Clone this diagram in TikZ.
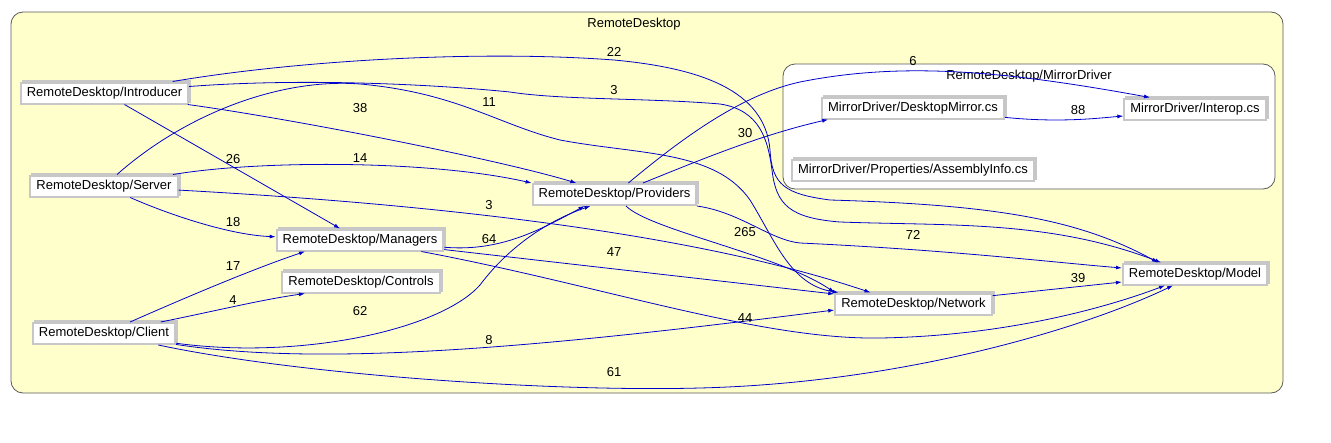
\documentclass[tikz,border=0pt]{standalone}
\usepackage{fontspec}
\setmainfont{Liberation Sans}
\usetikzlibrary{arrows.meta,shadows}
\definecolor{depblue}{RGB}{0,0,204}
\definecolor{areayellow}{RGB}{255,255,204}
\definecolor{areaedge}{RGB}{90,90,90}

\begin{document}
\begin{tikzpicture}[
x=1pt,y=-1pt,
module/.style={
draw=black!22,
line width=2pt,
fill=white,
inner xsep=6pt,
minimum height=21pt,
font=\fontsize{13}{15}\selectfont,
copy shadow={shadow xshift=2pt,shadow yshift=2pt}
},
area/.style={draw=areaedge,line width=0.8pt,rounded corners=12pt},
areatitle/.style={font=\fontsize{13}{15}\selectfont,inner sep=1pt},
deplabel/.style={font=\fontsize{13}{15}\selectfont,inner sep=1pt},
dep/.style={->,draw=depblue,line width=0.8pt},
>={Latex[length=6pt,width=4pt]}
]
\useasboundingbox (0,0) rectangle (1331,442);

% clusters
\draw[area,fill=areayellow] (11,12) rectangle (1283,393);
\node[areatitle] (rdtitle) at (634,24) {RemoteDesktop};
\draw[area,fill=white] (783,64) rectangle (1275,189);
\node[areatitle] (mdtitle) at (1029,76) {RemoteDesktop/MirrorDriver};

% modules
\node[module] (intro) at (104.5,93) {RemoteDesktop/Introducer};
\node[module] (server) at (104,186) {RemoteDesktop/Server};
\node[module] (client) at (104,333.5) {RemoteDesktop/Client};
\node[module] (managers) at (360,240) {RemoteDesktop/Managers};
\node[module] (controls) at (361,282) {RemoteDesktop/Controls};
\node[module] (providers) at (614.5,194.5) {RemoteDesktop/Providers};
\node[module] (network) at (913.5,304) {RemoteDesktop/Network};
\node[module] (model) at (1195,274) {RemoteDesktop/Model};
\node[module] (dmirror) at (913,108) {MirrorDriver/DesktopMirror.cs};
\node[module] (interop) at (1195,109) {MirrorDriver/Interop.cs};
\node[module] (asminfo) at (913,170) {MirrorDriver/Properties/AssemblyInfo.cs};

% dependencies
\draw[dep] (intro) -- (managers);
\draw[dep] (intro) .. controls (300,120) and (500,160) .. (providers);
\draw[dep] (intro) .. controls (300,60) and (480,50) .. (614,60)
  .. controls (700,68) and (765,90) .. (770,150)
  .. controls (772,185) and (785,194) .. (830,200)
  .. controls (1000,205) and (1080,220) .. ([xshift=-37pt]model.north);
\draw[dep] (intro) .. controls (300,78) and (430,84) .. (510,92)
  .. controls (560,100) and (650,98) .. (720,104)
  .. controls (760,110) and (768,140) .. (772,170)
  .. controls (776,205) and (790,218) .. (840,222)
  .. controls (950,226) and (1050,220) .. ([xshift=-34pt]model.north);
\draw[dep] (server) .. controls (190,110) and (290,75) .. (370,85)
  .. controls (460,95) and (500,125) .. (560,140)
  .. controls (640,155) and (715,150) .. (750,200)
  .. controls (775,240) and (790,285) .. ([xshift=-75pt]network.north);
\draw[dep] (server) .. controls (260,160) and (430,160) .. (providers.north west);
\draw[dep] (server) .. controls (170,215) and (230,235) .. (managers);
\draw[dep] (server) .. controls (450,205) and (700,235) .. ([xshift=-43pt]network.north);
\draw[dep] (client) .. controls (180,300) and (250,270) .. ([xshift=-55pt]managers.south);
\draw[dep] (client) .. controls (220,310) and (260,300) .. ([xshift=-56pt]controls.south);
\draw[dep] (client) .. controls (300,360) and (440,330) .. (480,285)
  .. controls (510,245) and (550,220) .. ([xshift=-24pt]providers.south);
\draw[dep] (client) .. controls (330,368) and (560,345) .. ([yshift=-6pt]network.west);
\draw[dep] (client) .. controls (300,375) and (550,392) .. (700,388)
  .. controls (900,383) and (1080,330) .. ([xshift=-22pt]model.south);
\draw[dep] (managers) .. controls (500,252) and (540,230) .. ([xshift=-30pt]providers.south);
\draw[dep] (managers) -- ([yshift=10pt]network.west);
\draw[dep] (managers) .. controls (600,285) and (760,340) .. (880,338)
  .. controls (1000,336) and (1100,310) .. ([xshift=-30pt]model.south);
\draw[dep] (providers) .. controls (700,160) and (760,135) .. ([xshift=7pt]dmirror.south west);
\draw[dep] (providers) .. controls (680,140) and (740,95) .. (800,82)
  .. controls (900,62) and (1000,70) .. ([xshift=-45pt]interop.north);
\draw[dep] (providers) .. controls (650,230) and (780,255) .. ([xshift=-79pt]network.north);
\draw[dep] (providers) .. controls (740,212) and (770,240) .. (800,243)
  .. controls (950,250) and (1050,262) .. ([yshift=6pt]model.west);
\draw[dep] (network) -- ([yshift=-8pt]model.west);
\draw[dep] (dmirror) .. controls (1060,123) and (1100,118) .. ([yshift=-7pt]interop.west);

% counts
\node[deplabel] (l26) at (233,159) {26};
\node[deplabel] (l38) at (360,108) {38};
\node[deplabel] (l22) at (614,52) {22};
\node[deplabel] (l3a) at (614,90) {3};
\node[deplabel] (l11) at (489,102) {11};
\node[deplabel] (l14) at (360,158) {14};
\node[deplabel] (l18) at (233,222) {18};
\node[deplabel] (l3b) at (489,205) {3};
\node[deplabel] (l17) at (233,266) {17};
\node[deplabel] (l4) at (233,300) {4};
\node[deplabel] (l62) at (360,311) {62};
\node[deplabel] (l8) at (489,340) {8};
\node[deplabel] (l61) at (614,372) {61};
\node[deplabel] (l64) at (489,239) {64};
\node[deplabel] (l47) at (614,252) {47};
\node[deplabel] (l44) at (745,318) {44};
\node[deplabel] (l30) at (745,133) {30};
\node[deplabel] (l6) at (913,61) {6};
\node[deplabel] (l265) at (745,232) {265};
\node[deplabel] (l72) at (913,235) {72};
\node[deplabel] (l39) at (1078,278) {39};
\node[deplabel] (l88) at (1078,110) {88};

\end{tikzpicture}
\end{document}
